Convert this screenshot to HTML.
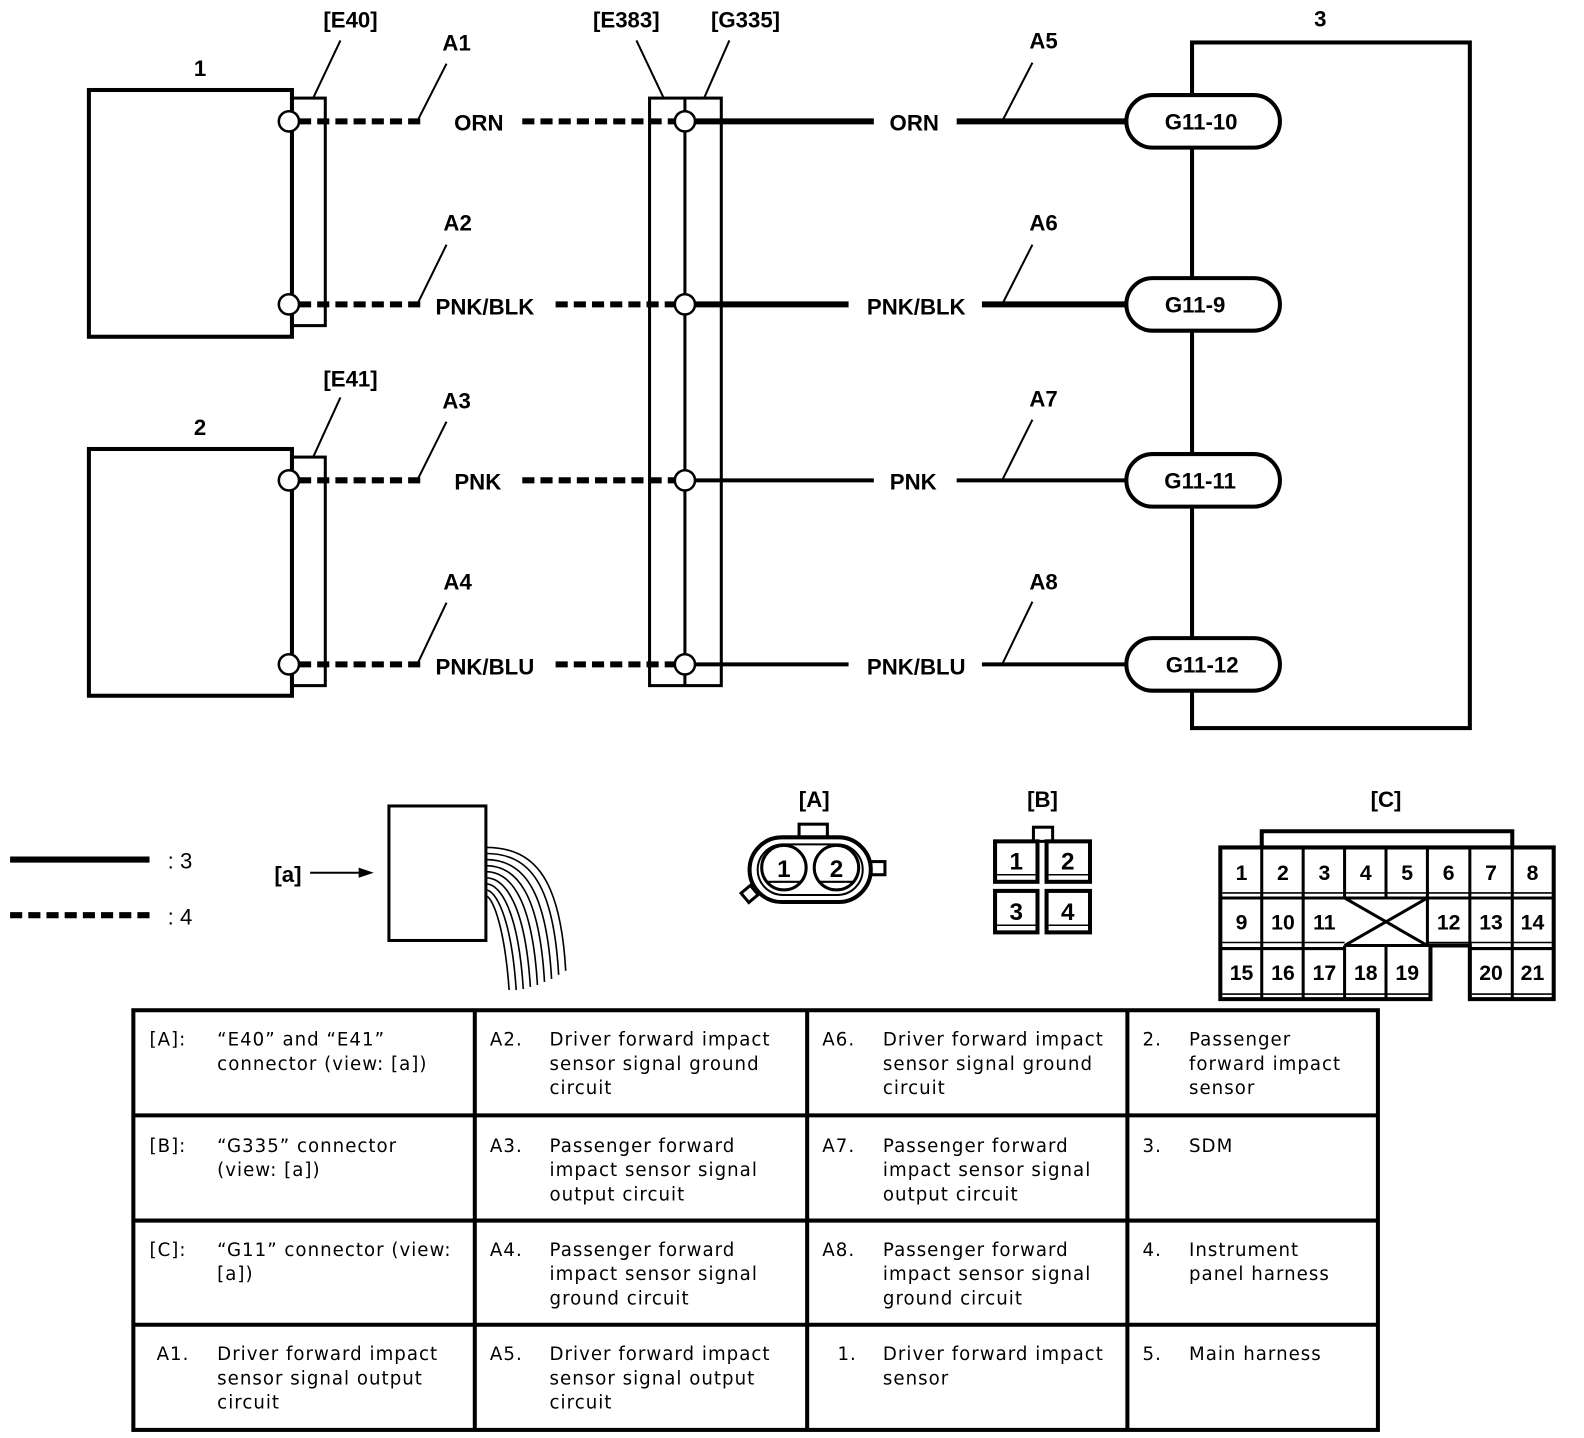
<!DOCTYPE html>
<html><head><meta charset="utf-8"><style>
html,body{margin:0;padding:0;background:#fff}
svg{display:block}
text{font-family:"Liberation Sans",Arial,sans-serif;font-weight:bold;fill:#000}
.t{font-family:"DejaVu Sans","Liberation Sans",sans-serif;font-weight:normal;font-size:18px;letter-spacing:1px}
</style></head><body>
<svg width="1584" height="1438" viewBox="0 0 1568 1422" preserveAspectRatio="none" xmlns="http://www.w3.org/2000/svg">
<g fill="none" stroke="#000">
<rect x="88" y="89" width="201" height="244" stroke-width="4"/>
<rect x="88" y="444" width="201" height="244" stroke-width="4"/>
<rect x="289" y="97" width="33" height="225" stroke-width="3"/>
<rect x="289" y="452" width="33" height="226" stroke-width="3"/>
<rect x="643" y="97" width="71" height="581" stroke-width="3"/>
<line x1="678" y1="97" x2="678" y2="678" stroke-width="3"/>
<rect x="1180" y="42" width="275" height="678" stroke-width="4"/>
<g stroke-width="2">
<line x1="337" y1="40" x2="310" y2="97"/>
<line x1="337" y1="393" x2="310" y2="452"/>
<line x1="630" y1="40" x2="657" y2="97"/>
<line x1="722" y1="40" x2="697" y2="97"/>
<line x1="442" y1="63" x2="413" y2="120"/>
<line x1="442" y1="242" x2="413" y2="301"/>
<line x1="442" y1="417" x2="413" y2="475"/>
<line x1="442" y1="596" x2="413" y2="657"/>
<line x1="1022" y1="62" x2="992" y2="120"/>
<line x1="1022" y1="242" x2="992" y2="301"/>
<line x1="1022" y1="415" x2="992" y2="475"/>
<line x1="1022" y1="595" x2="992" y2="657"/>
</g>
<g stroke-width="6" stroke-dasharray="12 6">
<line x1="296" y1="120" x2="420" y2="120"/><line x1="517" y1="120" x2="670" y2="120"/>
<line x1="296" y1="301" x2="420" y2="301"/><line x1="550" y1="301" x2="670" y2="301"/>
<line x1="296" y1="475" x2="420" y2="475"/><line x1="517" y1="475" x2="670" y2="475"/>
<line x1="296" y1="657" x2="420" y2="657"/><line x1="550" y1="657" x2="670" y2="657"/>
</g>
<g stroke-width="6">
<line x1="680" y1="120" x2="865" y2="120"/><line x1="947" y1="120" x2="1116" y2="120"/>
<line x1="680" y1="301" x2="840" y2="301"/><line x1="972" y1="301" x2="1116" y2="301"/>
</g>
<g stroke-width="4">
<line x1="680" y1="475" x2="865" y2="475"/><line x1="947" y1="475" x2="1116" y2="475"/>
<line x1="680" y1="657" x2="840" y2="657"/><line x1="972" y1="657" x2="1116" y2="657"/>
</g>
<g stroke-width="4" fill="#fff">
<rect x="1115" y="94" width="152" height="52" rx="26"/>
<rect x="1115" y="275" width="152" height="52" rx="26"/>
<rect x="1115" y="449" width="152" height="52" rx="26"/>
<rect x="1115" y="631" width="152" height="52" rx="26"/>
</g>
<g stroke-width="2.5" fill="#fff">
<circle cx="286" cy="120" r="10"/><circle cx="286" cy="301" r="10"/>
<circle cx="286" cy="475" r="10"/><circle cx="286" cy="657" r="10"/>
<circle cx="678" cy="120" r="10"/><circle cx="678" cy="301" r="10"/>
<circle cx="678" cy="475" r="10"/><circle cx="678" cy="657" r="10"/>
</g>
<line x1="10" y1="850" x2="148" y2="850" stroke-width="6"/>
<line x1="10" y1="905" x2="148" y2="905" stroke-width="6" stroke-dasharray="12 6"/>
<line x1="307" y1="863" x2="355" y2="863" stroke-width="2"/>
<polygon points="355,858 370,863 355,868" fill="#000" stroke="none"/>
<rect x="385" y="797" width="96" height="133" stroke-width="3"/>
<g stroke-width="1.6">
<path d="M481,838 C530,838 555,870 560,960"/>
<path d="M481,844 C525,844 548,875 553,964"/>
<path d="M481,850 C518,850 541,880 546,968"/>
<path d="M481,856 C512,856 534,885 539,971"/>
<path d="M481,862 C506,862 527,890 532,974"/>
<path d="M481,868 C500,868 520,895 525,976"/>
<path d="M481,874 C495,874 513,900 518,978"/>
<path d="M481,880 C490,880 506,905 511,979"/>
<path d="M481,886 C486,886 499,910 504,979"/>
</g>
<rect x="791" y="815" width="28" height="15" stroke-width="3" fill="#fff"/>
<rect x="742" y="828" width="120" height="64" rx="32" stroke-width="4" fill="#fff"/>
<rect x="750" y="835" width="104" height="50" rx="25" stroke-width="2"/>
<rect x="862" y="852" width="14" height="13" stroke-width="3"/>
<rect x="736" y="878" width="12" height="12" stroke-width="3" transform="rotate(-40 742 884)"/>
<circle cx="776" cy="858" r="22" stroke-width="3"/>
<circle cx="828" cy="858" r="22" stroke-width="3"/>
<line x1="758" y1="872" x2="794" y2="872" stroke-width="2"/>
<line x1="810" y1="872" x2="846" y2="872" stroke-width="2"/>
<rect x="1023" y="818" width="19" height="14" stroke-width="3"/>
<g stroke-width="4">
<rect x="985" y="832" width="42" height="40"/><rect x="1036" y="832" width="43" height="40"/>
<rect x="985" y="881" width="42" height="41"/><rect x="1036" y="881" width="43" height="41"/>
</g>
<g stroke-width="1.5">
<line x1="987" y1="865" x2="1025" y2="865"/><line x1="1038" y1="865" x2="1077" y2="865"/>
<line x1="987" y1="915" x2="1025" y2="915"/><line x1="1038" y1="915" x2="1077" y2="915"/>
</g>
<polyline points="1249,838 1249,822 1497,822 1497,838" stroke-width="4"/>
<path d="M1208,838 H1538 V988 H1455 V935 H1416 V988 H1208 Z" stroke-width="4"/>
<g stroke-width="3">
<line x1="1249" y1="838" x2="1249" y2="988"/><line x1="1290" y1="838" x2="1290" y2="988"/>
<line x1="1331" y1="838" x2="1331" y2="888"/><line x1="1331" y1="935" x2="1331" y2="988"/>
<line x1="1372" y1="838" x2="1372" y2="888"/><line x1="1372" y1="935" x2="1372" y2="988"/>
<line x1="1413" y1="838" x2="1413" y2="935"/><line x1="1455" y1="838" x2="1455" y2="935"/>
<line x1="1497" y1="838" x2="1497" y2="988"/>
<line x1="1208" y1="888" x2="1538" y2="888"/>
<line x1="1208" y1="938" x2="1331" y2="938"/><line x1="1331" y1="935" x2="1416" y2="935"/>
<line x1="1413" y1="935" x2="1455" y2="935"/><line x1="1455" y1="938" x2="1538" y2="938"/>
<line x1="1331" y1="888" x2="1413" y2="935"/><line x1="1413" y1="888" x2="1331" y2="935"/>
</g>
<g stroke-width="1.5">
<line x1="1210" y1="883" x2="1536" y2="883"/><line x1="1210" y1="932" x2="1331" y2="932"/>
<line x1="1413" y1="932" x2="1536" y2="932"/><line x1="1210" y1="983" x2="1414" y2="983"/>
<line x1="1457" y1="983" x2="1536" y2="983"/>
</g>
<g stroke-width="4">
<rect x="132" y="999" width="1232" height="415"/>
<line x1="470" y1="999" x2="470" y2="1414"/><line x1="799" y1="999" x2="799" y2="1414"/>
<line x1="1116" y1="999" x2="1116" y2="1414"/>
<line x1="132" y1="1103" x2="1364" y2="1103"/><line x1="132" y1="1207" x2="1364" y2="1207"/>
<line x1="132" y1="1310" x2="1364" y2="1310"/>
</g>
</g>
<g font-size="22" text-anchor="middle">
<text x="198" y="75">1</text><text x="198" y="430">2</text><text x="1307" y="26">3</text>
<text x="347" y="27">[E40]</text><text x="347" y="382">[E41]</text>
<text x="620" y="27">[E383]</text><text x="738" y="27">[G335]</text>
<text x="452" y="50">A1</text><text x="453" y="228">A2</text><text x="452" y="404">A3</text><text x="453" y="583">A4</text>
<text x="1033" y="48">A5</text><text x="1033" y="228">A6</text><text x="1033" y="402">A7</text><text x="1033" y="583">A8</text>
<text x="474" y="129">ORN</text><text x="480" y="311">PNK/BLK</text><text x="473" y="484">PNK</text><text x="480" y="667">PNK/BLU</text>
<text x="905" y="129">ORN</text><text x="907" y="311">PNK/BLK</text><text x="904" y="484">PNK</text><text x="907" y="667">PNK/BLU</text>
<text x="1189" y="128">G11-10</text><text x="1183" y="309">G11-9</text><text x="1188" y="483">G11-11</text><text x="1190" y="665">G11-12</text>
<text x="806" y="798">[A]</text><text x="1032" y="798">[B]</text><text x="1372" y="798">[C]</text>
<text x="285" y="872">[a]</text>
</g>
<g font-size="22">
<text x="166" y="859" style="font-weight:normal">: 3</text><text x="166" y="914" style="font-weight:normal">: 4</text>
</g>
<g font-size="24" text-anchor="middle">
<text x="776" y="867">1</text><text x="828" y="867">2</text>
<text x="1006" y="860">1</text><text x="1057" y="860">2</text>
<text x="1006" y="910">3</text><text x="1057" y="910">4</text>
</g>
<g font-size="21" text-anchor="middle">
<text x="1229" y="870">1</text><text x="1270" y="870">2</text><text x="1311" y="870">3</text><text x="1352" y="870">4</text>
<text x="1393" y="870">5</text><text x="1434" y="870">6</text><text x="1476" y="870">7</text><text x="1517" y="870">8</text>
<text x="1229" y="919">9</text><text x="1270" y="919">10</text><text x="1311" y="919">11</text>
<text x="1434" y="919">12</text><text x="1476" y="919">13</text><text x="1517" y="919">14</text>
<text x="1229" y="969">15</text><text x="1270" y="969">16</text><text x="1311" y="969">17</text><text x="1352" y="969">18</text>
<text x="1393" y="969">19</text><text x="1476" y="969">20</text><text x="1517" y="969">21</text>
</g>
<g class="t">
<text class="t" x="148" y="1034">[A]:</text><text class="t" x="215" y="1034">“E40” and “E41”</text><text class="t" x="215" y="1058">connector (view: [a])</text>
<text class="t" x="148" y="1139">[B]:</text><text class="t" x="215" y="1139">“G335” connector</text><text class="t" x="215" y="1163">(view: [a])</text>
<text class="t" x="148" y="1242">[C]:</text><text class="t" x="215" y="1242">“G11” connector (view:</text><text class="t" x="215" y="1266">[a])</text>
<text class="t" x="155" y="1345">A1.</text><text class="t" x="215" y="1345">Driver forward impact</text><text class="t" x="215" y="1369">sensor signal output</text><text class="t" x="215" y="1393">circuit</text>
<text class="t" x="485" y="1034">A2.</text><text class="t" x="544" y="1034">Driver forward impact</text><text class="t" x="544" y="1058">sensor signal ground</text><text class="t" x="544" y="1082">circuit</text>
<text class="t" x="485" y="1139">A3.</text><text class="t" x="544" y="1139">Passenger forward</text><text class="t" x="544" y="1163">impact sensor signal</text><text class="t" x="544" y="1187">output circuit</text>
<text class="t" x="485" y="1242">A4.</text><text class="t" x="544" y="1242">Passenger forward</text><text class="t" x="544" y="1266">impact sensor signal</text><text class="t" x="544" y="1290">ground circuit</text>
<text class="t" x="485" y="1345">A5.</text><text class="t" x="544" y="1345">Driver forward impact</text><text class="t" x="544" y="1369">sensor signal output</text><text class="t" x="544" y="1393">circuit</text>
<text class="t" x="814" y="1034">A6.</text><text class="t" x="874" y="1034">Driver forward impact</text><text class="t" x="874" y="1058">sensor signal ground</text><text class="t" x="874" y="1082">circuit</text>
<text class="t" x="814" y="1139">A7.</text><text class="t" x="874" y="1139">Passenger forward</text><text class="t" x="874" y="1163">impact sensor signal</text><text class="t" x="874" y="1187">output circuit</text>
<text class="t" x="814" y="1242">A8.</text><text class="t" x="874" y="1242">Passenger forward</text><text class="t" x="874" y="1266">impact sensor signal</text><text class="t" x="874" y="1290">ground circuit</text>
<text class="t" x="829" y="1345">1.</text><text class="t" x="874" y="1345">Driver forward impact</text><text class="t" x="874" y="1369">sensor</text>
<text class="t" x="1131" y="1034">2.</text><text class="t" x="1177" y="1034">Passenger</text><text class="t" x="1177" y="1058">forward impact</text><text class="t" x="1177" y="1082">sensor</text>
<text class="t" x="1131" y="1139">3.</text><text class="t" x="1177" y="1139">SDM</text>
<text class="t" x="1131" y="1242">4.</text><text class="t" x="1177" y="1242">Instrument</text><text class="t" x="1177" y="1266">panel harness</text>
<text class="t" x="1131" y="1345">5.</text><text class="t" x="1177" y="1345">Main harness</text>
</g>
</svg>
</body></html>
